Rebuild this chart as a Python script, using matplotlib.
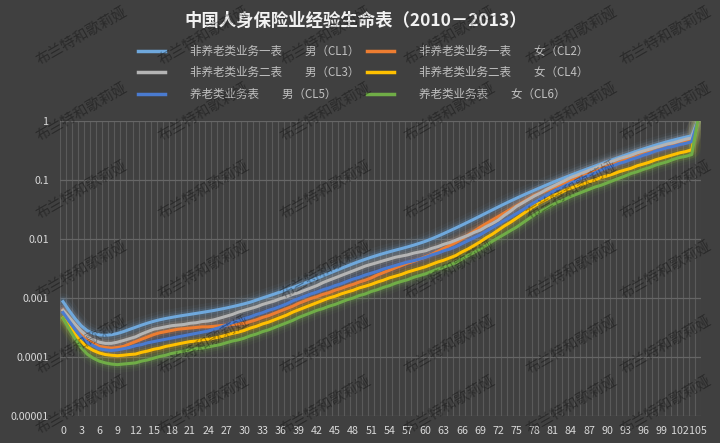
import matplotlib
matplotlib.use("Agg")
import matplotlib.pyplot as plt
from matplotlib.lines import Line2D
from matplotlib.ticker import NullLocator, FixedLocator

plt.rcParams['font.family'] = ['Noto Sans CJK SC', 'DejaVu Sans']

# -----------------------
# Colors
# -----------------------
BG = "#404040"
GRID = "#5a5a5a"
TEXT = "#d9d9d9"
LEGEND_TEXT = "#c0c0c0"

C_CL1 = "#6fa8dc"
C_CL2 = "#ed7d31"
C_CL3 = "#b4b4b4"
C_CL4 = "#ffc000"
C_CL5 = "#4a7bd0"
C_CL6 = "#70ad47"

# -----------------------
# Data (mortality rate by age)
# -----------------------
ages = list(range(106))
age_labels = [str(a) for a in range(0, 106, 3)]
y_ticks = [1e-5, 1e-4, 1e-3, 1e-2, 1e-1, 1]
y_labels = ["0.00001", "0.0001", "0.001", "0.01", "0.1", "1"]

title = "中国人身保险业经验生命表（2010－2013）"
watermark = "布兰特和歌莉娅"
labels = [
    "非养老类业务一表\u3000\u3000男（CL1）",
    "非养老类业务一表\u3000\u3000女（CL2）",
    "非养老类业务二表\u3000\u3000男（CL3）",
    "非养老类业务二表\u3000\u3000女（CL4）",
    "养老类业务表\u3000\u3000男（CL5）",
    "养老类业务表\u3000\u3000女（CL6）",
]

cl1 = [0.000867, 0.000615, 0.000445, 0.000339, 0.000280, 0.000251, 0.000237, 0.000233, 0.000238, 0.000250,
       0.000269, 0.000293, 0.000319, 0.000347, 0.000375, 0.000402, 0.000427, 0.000449, 0.000469, 0.000489,
       0.000508, 0.000527, 0.000547, 0.000568, 0.000591, 0.000615, 0.000644, 0.000675, 0.000711, 0.000751,
       0.000797, 0.000850, 0.000920, 0.00100, 0.00108, 0.00117, 0.00127, 0.00138, 0.00150, 0.00164,
       0.00179, 0.00196, 0.00215, 0.00237, 0.00261, 0.00287, 0.00316, 0.00347, 0.00381, 0.00416,
       0.00452, 0.00490, 0.00528, 0.00567, 0.00606, 0.00646, 0.00687, 0.00733, 0.00785, 0.00846,
       0.00916, 0.010065, 0.011129, 0.012360, 0.013771, 0.015379, 0.017212, 0.019304, 0.021691, 0.024411,
       0.027495, 0.030965, 0.034832, 0.039105, 0.043796, 0.048921, 0.054506, 0.060586, 0.067202, 0.074400,
       0.082220, 0.090700, 0.099868, 0.109754, 0.120388, 0.131817, 0.144105, 0.157334, 0.171609, 0.187046,
       0.203765, 0.221873, 0.241451, 0.262539, 0.285129, 0.309160, 0.334519, 0.361037, 0.388497, 0.416651,
       0.445251, 0.474057, 0.502869, 0.531535, 0.559945, 1.0]

cl2 = [0.000620, 0.000457, 0.000347, 0.000251, 0.000204, 0.000170, 0.000151, 0.000145, 0.000141, 0.000145,
       0.000151, 0.000166, 0.000182, 0.000200, 0.000219, 0.000240, 0.000257, 0.000269, 0.000282, 0.000295,
       0.000302, 0.000309, 0.000316, 0.000324, 0.000324, 0.000331, 0.000339, 0.000347, 0.000355, 0.000363,
       0.000372, 0.000398, 0.000427, 0.000468, 0.000501, 0.000550, 0.000603, 0.000661, 0.000724, 0.000813,
       0.000891, 0.000977, 0.00105, 0.00115, 0.00123, 0.00135, 0.00145, 0.00158, 0.00170, 0.00186,
       0.00200, 0.00219, 0.00245, 0.00269, 0.00295, 0.00324, 0.00355, 0.00389, 0.00417, 0.00457,
       0.00501, 0.00550, 0.00617, 0.00692, 0.00776, 0.00871, 0.0100, 0.0117, 0.0135, 0.0158,
       0.0182, 0.0209, 0.0240, 0.0275, 0.0316, 0.0363, 0.0417, 0.0479, 0.0550, 0.0603,
       0.0661, 0.0741, 0.0813, 0.0891, 0.0977, 0.107, 0.117, 0.129, 0.141, 0.155,
       0.170, 0.182, 0.200, 0.219, 0.234, 0.251, 0.275, 0.295, 0.316, 0.339,
       0.363, 0.389, 0.417, 0.447, 0.479, 1.0]

cl3 = [0.000620, 0.000470, 0.000355, 0.000275, 0.000224, 0.000195, 0.000178, 0.000170, 0.000170, 0.000178,
       0.000190, 0.000204, 0.000219, 0.000245, 0.000269, 0.000295, 0.000309, 0.000324, 0.000339, 0.000347,
       0.000355, 0.000372, 0.000380, 0.000398, 0.000407, 0.000427, 0.000457, 0.000490, 0.000525, 0.000575,
       0.000617, 0.000661, 0.000708, 0.000776, 0.000832, 0.000891, 0.000977, 0.00105, 0.00115, 0.00123,
       0.00135, 0.00148, 0.00162, 0.00182, 0.00200, 0.00219, 0.00240, 0.00263, 0.00288, 0.00316,
       0.00347, 0.00372, 0.00398, 0.00427, 0.00457, 0.00490, 0.00513, 0.00537, 0.00575, 0.00603,
       0.00631, 0.00692, 0.00741, 0.00813, 0.00871, 0.00955, 0.0105, 0.0115, 0.0129, 0.0141,
       0.0162, 0.0182, 0.0209, 0.0251, 0.0295, 0.0355, 0.0407, 0.0468, 0.0537, 0.0603,
       0.0692, 0.0776, 0.0871, 0.0977, 0.110, 0.120, 0.132, 0.145, 0.158, 0.178,
       0.195, 0.209, 0.229, 0.245, 0.263, 0.288, 0.309, 0.331, 0.355, 0.380,
       0.407, 0.427, 0.457, 0.490, 0.513, 1.0]

cl4 = [0.000457, 0.000331, 0.000240, 0.000182, 0.000148, 0.000129, 0.000117, 0.000110, 0.000107, 0.000105,
       0.000107, 0.000110, 0.000112, 0.000120, 0.000126, 0.000135, 0.000141, 0.000151, 0.000158, 0.000166,
       0.000174, 0.000182, 0.000186, 0.000195, 0.000200, 0.000209, 0.000219, 0.000234, 0.000251, 0.000263,
       0.000282, 0.000309, 0.000331, 0.000363, 0.000389, 0.000427, 0.000468, 0.000513, 0.000575, 0.000631,
       0.000692, 0.000759, 0.000832, 0.000912, 0.00100, 0.00107, 0.00117, 0.00126, 0.00135, 0.00148,
       0.00158, 0.00170, 0.00186, 0.00200, 0.00219, 0.00234, 0.00251, 0.00275, 0.00295, 0.00316,
       0.00339, 0.00372, 0.00407, 0.00437, 0.00479, 0.00525, 0.00603, 0.00676, 0.00776, 0.00891,
       0.0105, 0.0120, 0.0141, 0.0166, 0.0191, 0.0224, 0.0263, 0.0309, 0.0363, 0.0417,
       0.0468, 0.0537, 0.0589, 0.0661, 0.0724, 0.0794, 0.0851, 0.0933, 0.100, 0.110,
       0.117, 0.126, 0.138, 0.148, 0.158, 0.174, 0.186, 0.200, 0.219, 0.234,
       0.251, 0.269, 0.288, 0.302, 0.324, 1.0]

cl5 = [0.000566, 0.000407, 0.000295, 0.000219, 0.000178, 0.000155, 0.000138, 0.000132, 0.000129, 0.000132,
       0.000138, 0.000145, 0.000155, 0.000162, 0.000174, 0.000182, 0.000191, 0.000200, 0.000209, 0.000219,
       0.000229, 0.000240, 0.000251, 0.000263, 0.000275, 0.000295, 0.000316, 0.000347, 0.000380, 0.000407,
       0.000447, 0.000479, 0.000525, 0.000562, 0.000617, 0.000661, 0.000724, 0.000794, 0.000891, 0.000977,
       0.00107, 0.00117, 0.00126, 0.00138, 0.00148, 0.00162, 0.00174, 0.00191, 0.00209, 0.00224,
       0.00245, 0.00263, 0.00282, 0.00309, 0.00331, 0.00355, 0.00380, 0.00407, 0.00427, 0.00457,
       0.00490, 0.00537, 0.00575, 0.00631, 0.00676, 0.00741, 0.00832, 0.00933, 0.0105, 0.0117,
       0.0135, 0.0155, 0.0178, 0.0204, 0.0234, 0.0269, 0.0309, 0.0363, 0.0417, 0.0479,
       0.0550, 0.0631, 0.0708, 0.0794, 0.0891, 0.0977, 0.110, 0.120, 0.132, 0.148,
       0.162, 0.174, 0.191, 0.204, 0.224, 0.240, 0.263, 0.282, 0.309, 0.331,
       0.355, 0.372, 0.398, 0.417, 0.447, 1.0]

cl6 = [0.000453, 0.000302, 0.000204, 0.000145, 0.000112, 0.0000955, 0.0000851, 0.0000794, 0.0000759, 0.0000741,
       0.0000759, 0.0000776, 0.0000794, 0.0000851, 0.0000891, 0.0000955, 0.000102, 0.000107, 0.000115, 0.000120,
       0.000126, 0.000132, 0.000138, 0.000141, 0.000148, 0.000155, 0.000162, 0.000174, 0.000186, 0.000195,
       0.000209, 0.000229, 0.000245, 0.000269, 0.000288, 0.000316, 0.000347, 0.000380, 0.000417, 0.000468,
       0.000513, 0.000562, 0.000617, 0.000661, 0.000724, 0.000776, 0.000851, 0.000933, 0.00100, 0.00110,
       0.00117, 0.00129, 0.00138, 0.00151, 0.00162, 0.00178, 0.00191, 0.00204, 0.00224, 0.00240,
       0.00257, 0.00282, 0.00309, 0.00331, 0.00363, 0.00398, 0.00457, 0.00525, 0.00589, 0.00676,
       0.00776, 0.00912, 0.0105, 0.0120, 0.0138, 0.0158, 0.0186, 0.0219, 0.0257, 0.0295,
       0.0331, 0.0380, 0.0427, 0.0468, 0.0525, 0.0575, 0.0631, 0.0692, 0.0759, 0.0813,
       0.0891, 0.0977, 0.107, 0.117, 0.129, 0.138, 0.151, 0.162, 0.178, 0.191,
       0.204, 0.224, 0.240, 0.251, 0.269, 1.0]

series = [
    (labels[0], cl1, C_CL1),
    (labels[1], cl2, C_CL2),
    (labels[2], cl3, C_CL3),
    (labels[3], cl4, C_CL4),
    (labels[4], cl5, C_CL5),
    (labels[5], cl6, C_CL6),
]


def main():
    fig = plt.figure(figsize=(7.2, 4.43), dpi=100, facecolor=BG)
    ax = fig.add_axes([0.0833, 0.061, 0.890, 0.666], facecolor=BG)

    ax.set_yscale('log')
    ax.set_ylim(1e-5, 1)
    ax.set_xlim(-0.5, 105.5)

    # gridlines: one vertical per category boundary, horizontal per decade
    ax.xaxis.set_major_locator(FixedLocator(list(range(0, 106, 3))))
    ax.set_xticklabels(age_labels)
    ax.xaxis.set_minor_locator(FixedLocator([a - 0.5 for a in ages] + [105.5]))
    ax.set_yticks(y_ticks)
    ax.set_yticklabels(y_labels)
    ax.yaxis.set_minor_locator(NullLocator())
    ax.grid(which='minor', axis='x', color=GRID, lw=0.8)
    ax.grid(which='major', axis='y', color="#666666", lw=0.9)
    ax.set_axisbelow(True)
    ax.tick_params(which='both', length=0, colors=TEXT, labelsize=7.7)
    ax.tick_params(axis='x', pad=7)
    ax.tick_params(axis='y', pad=8)
    for s in ax.spines.values():
        s.set_visible(False)

    # soft glow under each line, then the line itself
    for label, vals, col in series:
        for lw, a in [(12, 0.05), (8, 0.09), (5, 0.16)]:
            ax.plot(ages, vals, color=col, lw=lw, alpha=a, solid_capstyle='round')
    for label, vals, col in series:
        ax.plot(ages, vals, color=col, lw=2.2, label=label)

    # title
    fig.text(356 / 720, 1 - 21 / 443, title, ha='center', va='center',
             fontsize=12.5, fontweight='bold', color="#f2f2f2")

    # legend: column 1 = CL1, CL3, CL5; column 2 = CL2, CL4, CL6
    order = [0, 2, 4, 1, 3, 5]
    handles = [Line2D([], [], color=series[i][2], lw=2.5) for i in order]
    leg_labels = [series[i][0] for i in order]
    fig.legend(handles, leg_labels, ncol=2, loc='upper left',
               bbox_to_anchor=(138 / 720, 1 - 45 / 443), frameon=False,
               fontsize=8.3, labelcolor=LEGEND_TEXT, handlelength=2.35,
               handletextpad=2.2, columnspacing=0.6, labelspacing=0.72,
               borderpad=0, borderaxespad=0)

    # watermark grid (kept fully inside the picture)
    for cx in [82, 204, 326, 450, 572, 666]:
        for cy in [36, 112, 190, 270, 345, 405]:
            fig.text(cx / 720, 1 - cy / 443, watermark, rotation=30,
                     ha='center', va='center', fontsize=10.5, color='black',
                     alpha=0.33, zorder=10)

    fig.savefig("out.png", dpi=100, facecolor=BG)


if __name__ == "__main__":
    main()
